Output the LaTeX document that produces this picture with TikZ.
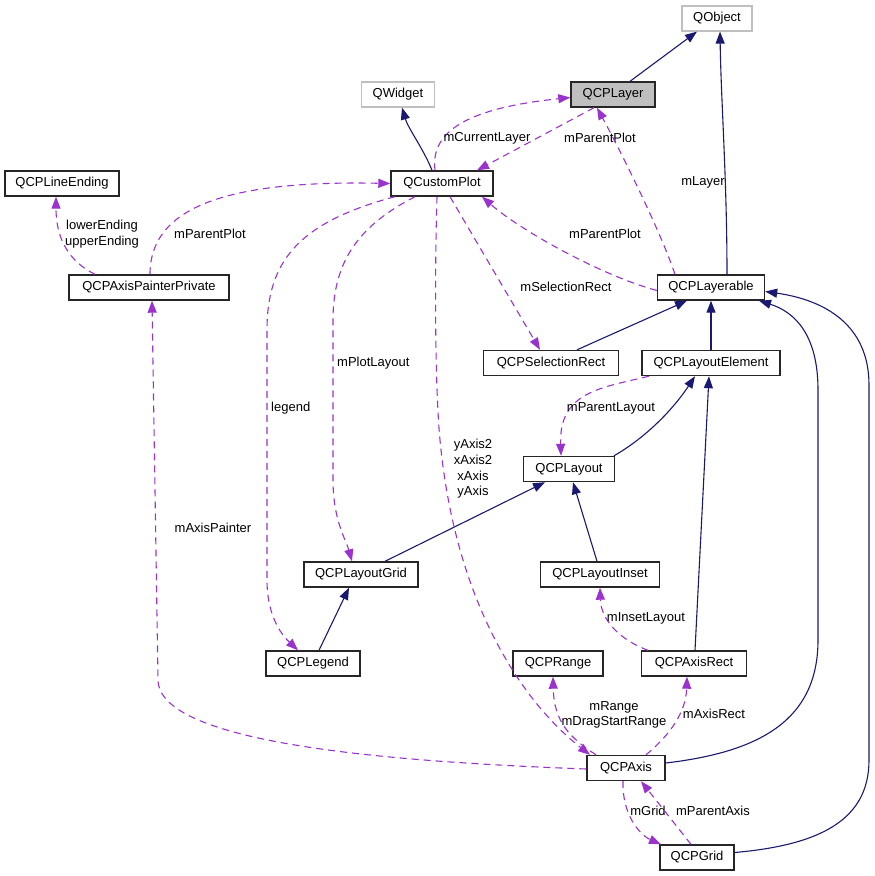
\documentclass[tikz,border=0pt]{standalone}
\usepackage{fontspec}
\setmainfont{Liberation Sans}
\usetikzlibrary{arrows.meta}
\definecolor{inhblue}{HTML}{191970}
\definecolor{usepurple}{HTML}{9A32CD}
\definecolor{boxgray}{HTML}{BFBFBF}
\begin{document}
\begin{tikzpicture}[x=1pt,y=-1pt,
	font=\fontsize{13}{15.6}\selectfont,
	cls/.style={draw=black!85, line width=1.4pt, inner sep=0pt, minimum height=25pt},
	ext/.style={draw=boxgray, line width=1.2pt, inner sep=0pt, minimum height=25pt},
	inh/.style={draw=inhblue, line width=1.1pt, -{Triangle[length=12pt,width=9pt]}},
	use/.style={draw=usepurple, line width=1.1pt, dash pattern=on 7pt off 5pt, -{Triangle[length=12pt,width=9pt,fill=usepurple]}},
	lbl/.style={inner sep=0pt, align=center}]
		\useasboundingbox (0,0) rectangle (875,876);
		% classes
		\node[ext, minimum width=70pt] (qobject) at (717,18.5) {QObject};
		\node[cls, fill=boxgray, minimum width=84pt] (layer) at (613,94.5) {QCPLayer};
		\node[ext, minimum width=73pt] (qwidget) at (398,94.5) {QWidget};
		\node[cls, minimum width=102pt] (cp) at (442,183.5) {QCustomPlot};
		\node[cls, minimum width=114pt] (lineend) at (62,183.5) {QCPLineEnding};
		\node[cls, minimum width=160pt] (app) at (149,287.5) {QCPAxisPainterPrivate};
		\node[cls, minimum width=107pt] (layerable) at (711,287.5) {QCPLayerable};
		\node[cls, minimum width=135pt] (selrect) at (551,363) {QCPSelectionRect};
		\node[cls, minimum width=138pt] (le) at (711,363) {QCPLayoutElement};
		\node[cls, minimum width=91pt] (layout) at (569,469) {QCPLayout};
		\node[cls, minimum width=114pt] (lgrid) at (361,574.5) {QCPLayoutGrid};
		\node[cls, minimum width=119pt] (inset) at (600,574.5) {QCPLayoutInset};
		\node[cls, minimum width=94pt] (legend) at (313,663.5) {QCPLegend};
		\node[cls, minimum width=90pt] (range) at (558,663.5) {QCPRange};
		\node[cls, minimum width=105pt] (axisrect) at (694,663.5) {QCPAxisRect};
		\node[cls, minimum width=78pt] (axis) at (626,768) {QCPAxis};
		\node[cls, minimum width=74pt] (grid) at (697,857.5) {QCPGrid};
		% inheritance
		\draw[inh] ([xshift=17pt]layer.north) -- ([xshift=-20pt]qobject.south);
		\draw[inh] ([xshift=-10pt]cp.north) .. controls (424,150) and (408,128) .. ([xshift=4pt]qwidget.south);
		\draw[inh] ([xshift=16pt]layerable.north) .. controls (727,180) and (721,100) .. ([xshift=3pt]qobject.south);
		\draw[inh] ([xshift=26pt]selrect.north) -- ([xshift=-24pt]layerable.south);
		\draw[inh] (le.north) -- (layerable.south);
		\draw[inh] ([xshift=45pt]layout.north) .. controls (650,435) and (676,405) .. ([xshift=-16pt]le.south);
		\draw[inh] ([xshift=24pt]lgrid.north) -- ([xshift=-24pt]layout.south);
		\draw[inh] ([xshift=-3pt]inset.north) -- ([xshift=4pt]layout.south);
		\draw[inh] ([xshift=6pt]legend.north) -- ([xshift=-12pt]lgrid.south);
		\draw[inh] ([xshift=1pt]axisrect.north) -- ([xshift=-2pt]le.south);
		\draw[inh] ([yshift=5pt]axis.east) .. controls (760,752) and (818,720) .. (818,640) -- (818,390) .. controls (818,335) and (795,312) .. ([xshift=48pt]layerable.south);
		\draw[inh] ([yshift=5pt]grid.east) .. controls (820,845) and (869,820) .. (869,760) -- (869,385) .. controls (869,325) and (825,300) .. ([yshift=-4pt]layerable.east);
		% usage
		\draw[use] ([xshift=-7pt]cp.north) .. controls (430,130) and (470,108) .. ([yshift=-3pt]layer.west);
		\node[lbl] (lCurLayer) at (487,138) {mCurrentLayer};
		\draw[use] ([xshift=-19pt]layer.south) -- ([xshift=35pt]cp.north);
		\node[lbl] (lLayerPlot) at (600,138) {mParentPlot};
		\draw[use] ([xshift=-36pt]layerable.north) .. controls (660,230) and (620,150) .. ([xshift=-16pt]layer.south);
		\node[lbl] (lLayer) at (703,182) {mLayer};
		\draw[use] ([yshift=-3pt]layerable.west) .. controls (600,275) and (520,230) .. ([xshift=40pt]cp.south);
		\node[lbl] (lLayerablePlot) at (605,234) {mParentPlot};
		\draw[use] ([xshift=1pt]app.north) .. controls (150,210) and (220,180) .. (cp.west);
		\node[lbl] (lAppPlot) at (210,234) {mParentPlot};
		\draw[use] ([xshift=-54pt]app.north) .. controls (70,262) and (56,240) .. ([xshift=-6pt]lineend.south);
		\node[lbl] (lEndings) at (102,234) {lowerEnding\\upperEnding};
		\draw[use] ([xshift=8pt]cp.south) -- ([xshift=-11pt]selrect.north);
		\node[lbl] (lSelRect) at (566,287) {mSelectionRect};
		\draw[use] ([xshift=-27pt]cp.south) .. controls (360,225) and (333,260) .. (333,320) -- (333,480) .. controls (333,520) and (346,540) .. ([xshift=-9pt]lgrid.north);
		\node[lbl, anchor=west] (lPlotLayout) at (337,363) {mPlotLayout};
		\draw[use] ([xshift=-47pt]cp.south) .. controls (300,222) and (267,260) .. (267,330) -- (267,580) .. controls (267,620) and (285,638) .. ([xshift=-15pt]legend.north);
		\node[lbl, anchor=west] (lLegend) at (271,408) {legend};
		\draw[use] ([xshift=-5pt]cp.south) .. controls (434,300) and (436,400) .. (440,440) .. controls (455,600) and (520,700) .. ([xshift=-36pt]axis.north);
		\node[lbl] (lAxes) at (473,469) {yAxis2\\xAxis2\\xAxis\\yAxis};
		\draw[use] ([xshift=-62pt]le.south) .. controls (600,388) and (559,392) .. ([xshift=-8pt]layout.north);
		\node[lbl] (lParentLayout) at (611,408) {mParentLayout};
		\draw[use] ([xshift=-46pt]axisrect.north) .. controls (620,640) and (601,620) .. (inset.south);
		\node[lbl] (lInsetLayout) at (646,618) {mInsetLayout};
		\draw[use] ([yshift=-1pt]axis.west) .. controls (400,762) and (159,745) .. (158,680) -- ([xshift=3pt]app.south);
		\node[lbl] (lAxisPainter) at (213,528) {mAxisPainter};
		\draw[use] ([xshift=-30pt]axis.north) .. controls (570,738) and (554,722) .. ([xshift=-5pt]range.south);
		\node[lbl] (lRange) at (614,715) {mRange\\mDragStartRange};
		\draw[use] ([xshift=20pt]axis.north) .. controls (670,735) and (686,712) .. ([xshift=-7pt]axisrect.south);
		\node[lbl] (lAxisRect) at (714,714) {mAxisRect};
		\draw[use] ([xshift=-3pt]axis.south) .. controls (622,815) and (640,835) .. ([xshift=-36pt]grid.north);
		\node[lbl] (lGrid) at (648,811) {mGrid};
		\draw[use] ([xshift=-6pt]grid.north) -- ([xshift=15pt]axis.south);
		\node[lbl] (lParentAxis) at (713,811) {mParentAxis};
\end{tikzpicture}
\end{document}
